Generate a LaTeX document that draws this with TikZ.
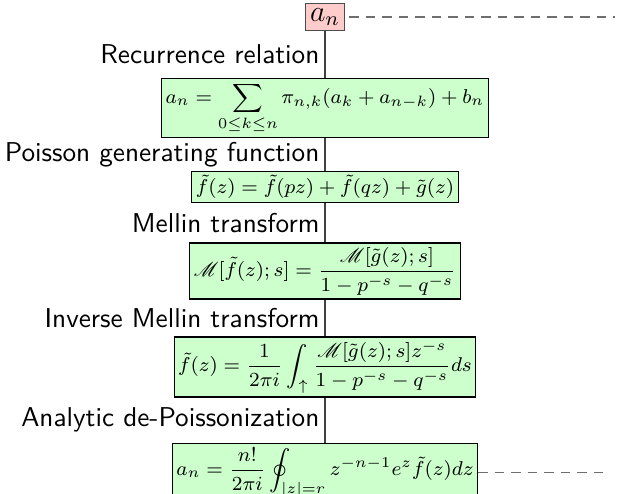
\documentclass[tikz,border=0pt]{standalone}
\usepackage{amsmath,amssymb}
\usepackage{mathrsfs}
\definecolor{boxgreen}{RGB}{204,255,204}
\definecolor{boxpink}{RGB}{255,204,204}
\definecolor{dashgray}{RGB}{110,110,110}
\tikzset{
  mathbox/.style={draw=black, line width=0.5pt, fill=boxgreen, inner sep=1.6pt, font=\footnotesize},
  rootbox/.style={draw=black!70, line width=0.5pt, fill=boxpink, inner sep=2pt, font=\large},
  steplabel/.style={midway, left, inner sep=2pt, font=\fontsize{10.9pt}{13pt}\selectfont\sffamily},
  link/.style={draw=black!75, line width=0.45pt},
  dashlink/.style={draw=dashgray, line width=0.45pt, dash pattern=on 3.8pt off 2.8pt}
}
\begin{document}
\begin{tikzpicture}[x=0.4pt, y=-0.4pt]
\useasboundingbox (0,0) rectangle (623,494);
\node[rootbox] (root) at (325,17) {$a_n$};
\node[mathbox] (b1) at (325,108) {$\displaystyle a_n=\sum_{0\le k\le n}\pi_{n,k}(a_k+a_{n-k})+b_n$};
\node[mathbox] (b2) at (325,187) {$\tilde f(z)=\tilde f(pz)+\tilde f(qz)+\tilde g(z)$};
\node[mathbox] (b3) at (325,271) {$\displaystyle \mathscr{M}[\tilde f(z);s]=\frac{\mathscr{M}[\tilde g(z);s]}{1-p^{-s}-q^{-s}}$};
\node[mathbox] (b4) at (325,367) {$\displaystyle \tilde f(z)=\frac{1}{2\pi i}\int_{\uparrow}\frac{\mathscr{M}[\tilde g(z);s]z^{-s}}{1-p^{-s}-q^{-s}}ds$};
\node[mathbox, anchor=north] (b5) at (325,443) {$\displaystyle a_n=\frac{n!}{2\pi i}\oint_{|z|=r}z^{-n-1}e^z\tilde f(z)dz$};
\coordinate (e1) at (615,17);
\coordinate (e5) at (610,0);
\draw[link] (root) -- (b1) node[steplabel] {Recurrence relation};
\draw[link] (b1) -- (b2) node[steplabel] {Poisson generating function};
\draw[link] (b2) -- (b3) node[steplabel] {Mellin transform};
\draw[link] (b3) -- (b4) node[steplabel] {Inverse Mellin transform};
\draw[link] (b4) -- (b5) node[steplabel] {Analytic de-Poissonization};
\draw[dashlink] (root.east) ++(4,0) -- (e1);
\draw[dashlink] (b5.east) -- (e5 |- b5.east);
\end{tikzpicture}
\end{document}
